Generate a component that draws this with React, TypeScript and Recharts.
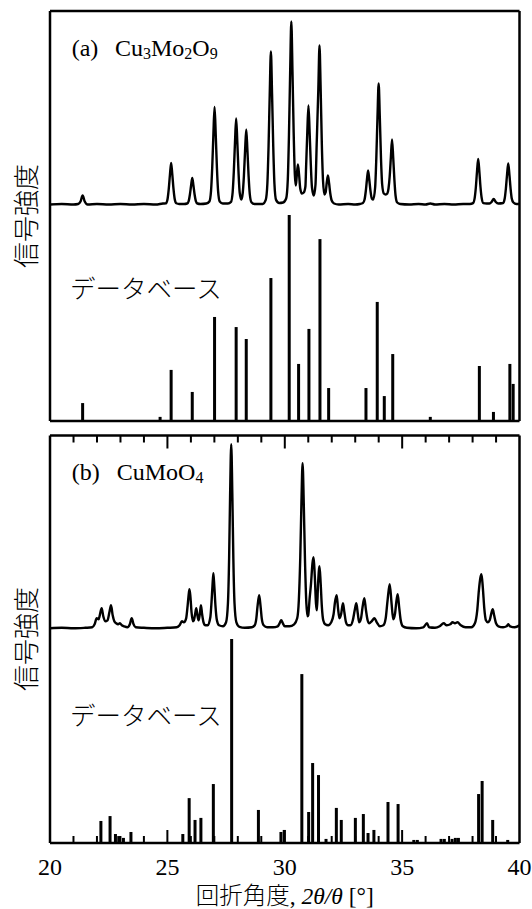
import React from 'react';
import { ComposedChart, Line, Bar, XAxis, YAxis } from 'recharts';

// ---------- Data ----------
// 2θ [deg], measured intensity (a.u., height above background)
const xrdA: [number, number][] = [
  [20.0, 0], [20.5, 0.5], [21.0, 0], [21.2, 0.5], [21.3, 3], [21.39, 9], [21.48, 3], [21.6, 0],
  [22.0, 0.5], [22.5, 0], [23.0, 0.5], [23.5, 0], [24.0, 0.5], [24.5, 0], [24.81, 1],
  [24.94, 1.2], [25.01, 5.8], [25.06, 15.8], [25.11, 30], [25.16, 41.5], [25.21, 30], [25.26, 15.8], [25.31, 5.8], [25.38, 1.2], [25.5, 0.5],
  [25.71, 0.5], [25.84, 1], [25.91, 3.7], [25.96, 10], [26.01, 19], [26.06, 26.5], [26.11, 19], [26.16, 10], [26.21, 3.7], [26.28, 1], [26.41, 0.5],
  [26.66, 1], [26.79, 3], [26.86, 13.6], [26.91, 37], [26.96, 70], [27.01, 97.5], [27.06, 70], [27.11, 37], [27.16, 13.6], [27.23, 3], [27.36, 1],
  [27.58, 1], [27.71, 2.6], [27.78, 12], [27.83, 32.7], [27.88, 62], [27.93, 86], [27.98, 62], [28.03, 32.7], [28.08, 12], [28.15, 5],
  [28.21, 11.5], [28.26, 28.5], [28.31, 54], [28.36, 75], [28.41, 54], [28.46, 28.5], [28.51, 10.5], [28.58, 2.3], [28.71, 0.5],
  [29.06, 0.5], [29.19, 4.6], [29.26, 21], [29.31, 58], [29.36, 110], [29.41, 153], [29.46, 110], [29.51, 58], [29.56, 21], [29.63, 4.6], [29.76, 1.5],
  [29.93, 2], [30.06, 6], [30.13, 25], [30.18, 70], [30.23, 132], [30.28, 183], [30.33, 132], [30.38, 72], [30.43, 30], [30.47, 19],
  [30.51, 28], [30.56, 40], [30.61, 30], [30.66, 16], [30.73, 11], [30.81, 12], [30.88, 18], [30.91, 38], [30.96, 72], [31.01, 99],
  [31.06, 72], [31.11, 40], [31.16, 17], [31.24, 9], [31.31, 20], [31.36, 60], [31.43, 115], [31.48, 159], [31.53, 115], [31.58, 60],
  [31.63, 24], [31.69, 10], [31.74, 12], [31.79, 22], [31.84, 29], [31.89, 21], [31.94, 11], [32.0, 4], [32.1, 1], [32.3, 0],
  [32.7, 0.5], [33.0, 0], [33.2, 0.5], [33.33, 1.5], [33.4, 5], [33.45, 13], [33.5, 24.5], [33.55, 34], [33.6, 25], [33.65, 14], [33.71, 6], [33.77, 5],
  [33.85, 17], [33.9, 46], [33.95, 87], [34.0, 121], [34.05, 87], [34.1, 46], [34.15, 20], [34.22, 11], [34.3, 10], [34.37, 11],
  [34.42, 16], [34.47, 28], [34.52, 47], [34.57, 65], [34.62, 47], [34.67, 25], [34.72, 9], [34.79, 2], [34.92, 0.5],
  [35.3, 0], [35.7, 0.5], [36.0, 0], [36.2, 1], [36.4, 0], [36.8, 0.5], [37.2, 0], [37.6, 0.5], [37.89, 0.5],
  [38.02, 1.4], [38.09, 6.4], [38.14, 17], [38.19, 33], [38.24, 45.5], [38.29, 33], [38.34, 17], [38.39, 6.4], [38.46, 1.4], [38.6, 1],
  [38.72, 1], [38.81, 2.5], [38.9, 5.5], [38.99, 2.5], [39.1, 1],
  [39.3, 1.5], [39.37, 6], [39.42, 16], [39.47, 30], [39.52, 41], [39.57, 30], [39.62, 16], [39.67, 6], [39.74, 2], [39.87, 0.5], [40.0, 0.5],
];

// database reference lines: 2θ [deg], relative intensity [%]
const dbA: [number, number][] = [
  [21.39, 8.7], [24.69, 2], [25.16, 24.8], [26.06, 14.1], [27.01, 50.5], [27.93, 45.6], [28.36, 39.8],
  [29.41, 69.4], [30.19, 100], [30.59, 27.7], [31.03, 44.7], [31.5, 88.3], [31.87, 16], [33.46, 16],
  [33.94, 57.8], [34.24, 12.1], [34.6, 32.5], [36.2, 2], [38.29, 26.7], [38.89, 4.4], [39.59, 27.7], [39.73, 18],
];

const xrdB: [number, number][] = [
  [20.0, 0], [20.5, 0.5], [21.0, 0], [21.5, 0.5], [21.8, 1], [21.9, 4], [21.99, 10], [22.07, 9], [22.12, 13], [22.2, 20],
  [22.27, 12], [22.35, 7], [22.45, 8], [22.53, 16], [22.6, 23], [22.67, 13], [22.74, 7], [22.82, 5], [22.9, 4], [22.98, 5],
  [23.06, 3], [23.15, 2], [23.3, 1], [23.4, 4], [23.48, 10], [23.56, 4], [23.65, 1], [24.0, 0.5], [24.5, 0], [25.0, 0.5],
  [25.4, 1], [25.52, 3], [25.62, 7], [25.7, 6], [25.8, 10], [25.86, 22], [25.9, 32], [25.94, 39], [25.98, 32], [26.03, 16],
  [26.09, 7], [26.13, 8], [26.18, 14], [26.23, 20], [26.28, 13], [26.33, 8], [26.38, 14], [26.43, 23], [26.48, 14], [26.54, 6],
  [26.62, 3], [26.72, 3], [26.83, 11], [26.88, 26], [26.92, 42], [26.96, 55], [27.0, 42], [27.05, 22], [27.11, 8], [27.2, 3],
  [27.37, 2], [27.5, 6], [27.58, 25], [27.63, 70], [27.67, 130], [27.72, 184], [27.77, 130], [27.81, 70], [27.86, 25], [27.94, 6],
  [28.07, 1.5], [28.3, 0.5], [28.6, 1], [28.72, 3], [28.79, 10], [28.84, 22], [28.91, 33], [28.97, 22], [29.02, 10], [29.1, 3],
  [29.25, 1], [29.5, 1], [29.7, 2], [29.78, 5], [29.85, 8], [29.92, 5], [30.0, 2], [30.2, 2], [30.4, 4], [30.53, 10],
  [30.6, 28], [30.66, 70], [30.71, 125], [30.76, 165], [30.81, 125], [30.86, 70], [30.92, 25], [30.97, 12], [31.0, 13], [31.06, 30],
  [31.12, 45], [31.18, 65], [31.23, 71], [31.28, 52], [31.33, 25], [31.37, 18], [31.42, 45], [31.48, 62], [31.53, 45], [31.58, 22],
  [31.64, 8], [31.72, 4], [31.85, 3], [31.98, 6], [32.08, 14], [32.14, 26], [32.21, 33], [32.27, 20], [32.33, 10], [32.4, 14],
  [32.48, 25], [32.54, 16], [32.61, 6], [32.7, 3], [32.8, 3], [32.9, 8], [32.98, 18], [33.05, 25], [33.11, 15], [33.17, 6],
  [33.25, 10], [33.32, 22], [33.39, 30], [33.46, 18], [33.53, 8], [33.6, 5], [33.7, 7], [33.82, 10], [33.92, 6], [34.05, 2],
  [34.2, 3], [34.3, 10], [34.38, 28], [34.47, 44], [34.55, 25], [34.62, 9], [34.7, 15], [34.75, 26], [34.81, 34], [34.87, 22],
  [34.94, 8], [35.03, 2], [35.2, 0.5], [35.6, 0], [35.9, 1], [36.06, 5], [36.15, 1], [36.4, 0.5], [36.6, 2], [36.77, 5],
  [36.9, 3], [37.05, 4], [37.15, 6], [37.25, 5], [37.36, 6], [37.5, 3], [37.7, 1], [37.95, 1], [38.1, 5], [38.2, 18],
  [38.27, 38], [38.33, 50], [38.38, 54], [38.44, 40], [38.5, 20], [38.57, 8], [38.65, 6], [38.73, 8], [38.8, 15], [38.86, 19],
  [38.92, 13], [39.0, 5], [39.1, 2], [39.3, 1], [39.45, 2], [39.52, 4], [39.6, 2], [39.8, 1], [40.0, 3],
];

const dbB: [number, number][] = [
  [22.17, 10.8], [22.56, 13.2], [22.79, 4.4], [22.93, 3.4], [23.13, 2.5], [23.45, 5.4], [25.66, 4.4], [25.93, 22],
  [26.18, 11.3], [26.43, 12.3], [26.96, 28.9], [27.74, 100], [28.88, 16.2], [29.84, 5.4], [29.98, 6.4], [30.73, 82.8],
  [31.02, 15.2], [31.19, 39.2], [31.44, 33.3], [31.76, 2], [32.2, 17.2], [32.41, 11.3], [33.01, 12.3], [33.35, 14.2],
  [33.55, 4.9], [33.8, 6.4], [34.4, 20.1], [34.83, 19.1], [35.5, 1.5], [35.65, 1.5], [36.66, 2], [36.8, 2], [37.13, 2],
  [37.27, 2.5], [37.4, 2.5], [38.26, 24], [38.41, 30.4], [38.86, 11.3], [39.5, 1.5],
];

// every degree gets an inward tick; every fifth is a long, labelled one
const allTicks = [20, 21, 22, 23, 24, 25, 26, 27, 28, 29, 30, 31, 32, 33, 34, 35, 36, 37, 38, 39, 40];
const innerTicks = [21, 22, 23, 24, 25, 26, 27, 28, 29, 30, 31, 32, 33, 34, 35, 36, 37, 38, 39];
const labelEvery = 5;

// ---------- Layout ----------
const W = 532;
const PLOT_L = 50;
const PLOT_R = 519.5;
const SERIF = "'Liberation Serif', 'Times New Roman', serif";
const CJK = "'Noto Sans CJK JP', 'Noto Sans CJK SC', sans-serif";
const FRAME = { stroke: '#000', strokeWidth: 2.5 };
const STICK_W = 3;
const TICK_W = 2;
const MAJOR_LEN = 13;
const MINOR_LEN = 7;

const Stick = (props: any) => {
  const { x, y, width, height } = props;
  if (x == null || y == null || !height) return <g />;
  const cx = x + (width || 0) / 2;
  return <rect x={cx - STICK_W / 2} y={y} width={STICK_W} height={Math.abs(height)} fill="#000" />;
};

const TickStick = (props: any) => {
  const { x, y, width, height } = props;
  if (x == null || y == null || !height) return <g />;
  const cx = x + (width || 0) / 2;
  const top = height < 0 ? y + height : y;
  return <rect x={cx - TICK_W / 2} y={top} width={TICK_W} height={Math.abs(height)} fill="#000" />;
};

// bottom-axis tick: inward tick mark + label on every fifth degree
const BottomTick = (props: any) => {
  const { x, y, payload } = props;
  const v = payload.value as number;
  const major = v % labelEvery === 0;
  const len = major ? MAJOR_LEN : MINOR_LEN;
  const inner = v > 20 && v < 40;
  return (
    <g>
      {inner && <line x1={x} x2={x} y1={y} y2={y - len} stroke="#000" strokeWidth={2} />}
      {major && (
        <text x={x} y={y + 31.5} textAnchor="middle" fontFamily={SERIF} fontSize={24} fill="#000">{v}</text>
      )}
    </g>
  );
};

type PanelProps = {
  top: number;
  height: number;
  plotTop: number;
  plotBottom: number;
  baseline: number; // pixel y of background level of measured curve
  barMaxPx: number; // pixel height of 100% reference line
  line: [number, number][];
  bars: [number, number][];
  withTicks: boolean;
};

function Panel({ top, height, plotTop, plotBottom, baseline, barMaxPx, line, bars, withTicks }: PanelProps) {
  const plotH = plotBottom - plotTop;
  const lineDomain: [number, number] = [-(plotBottom - baseline), baseline - plotTop];
  const barDomain: [number, number] = [0, (100 * plotH) / barMaxPx];
  const unitsPerPx = barDomain[1] / plotH;
  const lineData = line.map(([x, y]) => ({ x, y }));
  const chartData: any[] = bars.map(([x, v]) => ({ x, v }));
  if (withTicks) {
    innerTicks.forEach((v) => {
      const len = (v % labelEvery === 0 ? MAJOR_LEN : MINOR_LEN) * unitsPerPx;
      chartData.push({ x: v, tk: [barDomain[1] - len, barDomain[1]] });
    });
  }
  // the four frame axes each take 1px of room
  const margin = {
    top: plotTop - top - 1,
    bottom: top + height - plotBottom - 1,
    left: PLOT_L - 1,
    right: W - PLOT_R - 1,
  };
  return (
    <div style={{ position: 'absolute', left: 0, top }}>
      <ComposedChart width={W} height={height} data={chartData} margin={margin}>
        <XAxis
          xAxisId="x"
          dataKey="x"
          type="number"
          domain={[20, 40]}
          allowDataOverflow
          height={1}
          ticks={allTicks}
          interval={0}
          tick={withTicks ? BottomTick : false}
          tickLine={false}
          tickSize={0}
          tickMargin={0}
          axisLine={FRAME}
        />
        <XAxis
          xAxisId="top"
          orientation="top"
          type="number"
          domain={[20, 40]}
          allowDataOverflow
          height={1}
          tick={false}
          tickLine={false}
          axisLine={FRAME}
        />
        <YAxis yAxisId="line" type="number" domain={lineDomain} allowDataOverflow width={1} tick={false} tickLine={false} axisLine={FRAME} />
        <YAxis yAxisId="bar" orientation="right" type="number" domain={barDomain} allowDataOverflow width={1} tick={false} tickLine={false} axisLine={FRAME} />
        <Bar xAxisId="x" yAxisId="bar" dataKey="v" fill="#000" shape={Stick} isAnimationActive={false} />
        {withTicks && (
          <Bar xAxisId="x" yAxisId="bar" dataKey="tk" fill="#000" shape={TickStick} isAnimationActive={false} />
        )}
        <Line
          xAxisId="x"
          yAxisId="line"
          data={lineData}
          dataKey="y"
          type="monotone"
          dot={false}
          activeDot={false}
          stroke="#000"
          strokeWidth={2.4}
          isAnimationActive={false}
        />
      </ComposedChart>
    </div>
  );
}

export default function App() {
  return (
    <div style={{ position: 'absolute', left: 0, top: 0, width: W, height: 909, background: '#fff', overflow: 'hidden' }}>
      <Panel top={0} height={430} plotTop={11} plotBottom={421} baseline={204.5} barMaxPx={206}
        line={xrdA} bars={dbA} withTicks={false} />
      <Panel top={425} height={484} plotTop={435.5} plotBottom={843} baseline={628.3} barMaxPx={204}
        line={xrdB} bars={dbB} withTicks={true} />
      <svg width={W} height={909} style={{ position: 'absolute', left: 0, top: 0, pointerEvents: 'none' }}>
        {/* panel (a) */}
        <text x={71.7} y={55.7} fontFamily={SERIF} fontSize={24} fill="#000">(a)</text>
        <text x={115} y={55.7} fontFamily={SERIF} fontSize={24} fill="#000">
          Cu<tspan fontSize={16} dy={3}>3</tspan>
          <tspan dy={-3}>Mo</tspan><tspan fontSize={16} dy={3}>2</tspan>
          <tspan dy={-3}>O</tspan><tspan fontSize={16} dy={3}>9</tspan>
        </text>
        <text x={70} y={298.4} fontFamily={CJK} fontSize={25.5} fontWeight={300} fill="#000">データベース</text>
        {/* panel (b) */}
        <text x={71.7} y={479.7} fontFamily={SERIF} fontSize={24} fill="#000">(b)</text>
        <text x={116.7} y={479.7} fontFamily={SERIF} fontSize={24} fill="#000">
          CuMoO<tspan fontSize={16} dy={3}>4</tspan>
        </text>
        <text x={70} y={725} fontFamily={CJK} fontSize={25.5} fontWeight={300} fill="#000">データベース</text>
        {/* y labels */}
        <text transform="translate(24,216) rotate(-90)" textAnchor="middle" dominantBaseline="central"
          fontFamily={CJK} fontSize={26} fontWeight={300} fill="#000">信号強度</text>
        <text transform="translate(24,639) rotate(-90)" textAnchor="middle" dominantBaseline="central"
          fontFamily={CJK} fontSize={26} fontWeight={300} fill="#000">信号強度</text>
        {/* x title */}
        <text x={284.7} y={903.5} textAnchor="middle" fontFamily={SERIF} fontSize={23.5} fill="#000">
          <tspan fontFamily={CJK} fontWeight={300}>回折角度</tspan>
          <tspan>, </tspan>
          <tspan fontStyle="italic">2θ/θ</tspan>
          <tspan> [°]</tspan>
        </text>
      </svg>
    </div>
  );
}
